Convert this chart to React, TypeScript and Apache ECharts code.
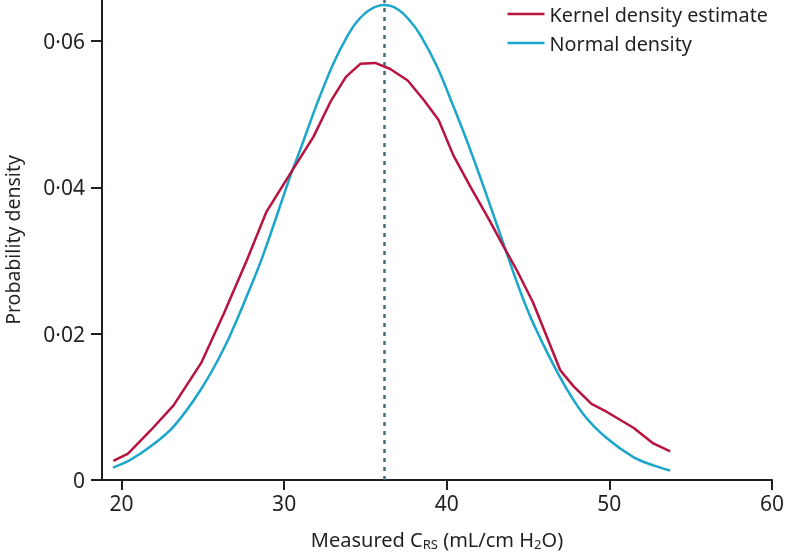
import React, { useEffect, useRef } from "react";
import * as echarts from "echarts";

// Kernel density estimate: x values (mL/cm H2O) and densities
const kernelX = [19.5, 20.4, 21.8, 23.2, 24.9, 26.3, 27.7, 28.9, 30.3, 31.8, 32.85, 33.8, 34.7, 35.6, 36.5, 37.6, 38.6, 39.5, 40.4, 41.45, 42.5, 43.5, 44.3, 45.3, 46.98, 47.8, 48.9, 49.85, 51.5, 52.7, 53.74];
const kernelY = [0.0026, 0.0036, 0.0068, 0.0102, 0.016, 0.0228, 0.03, 0.0366, 0.0416, 0.0469, 0.0517, 0.0551, 0.0569, 0.057, 0.0562, 0.0546, 0.0519, 0.0492, 0.0444, 0.0401, 0.036, 0.0319, 0.0287, 0.0243, 0.015, 0.0128, 0.0104, 0.0093, 0.0071, 0.005, 0.0039];

// Normal density: x values and densities
const normalX = [19.47, 20.5, 21.8, 23.2, 24.86, 26.3, 27.7, 28.75, 30.39, 31.0, 32.0, 33.0, 33.87, 34.5, 35.3, 36.16, 37.0, 37.76, 38.38, 39.4, 40.42, 41.45, 42.47, 43.5, 44.5, 45.34, 46.98, 48.4, 49.85, 51.5, 52.7, 53.74];
const normalY = [0.0017, 0.0027, 0.0046, 0.0073, 0.0123, 0.018, 0.0251, 0.031, 0.0416, 0.0452, 0.0513, 0.0568, 0.0606, 0.0627, 0.0643, 0.0649, 0.0643, 0.0627, 0.0608, 0.0565, 0.051, 0.0451, 0.0388, 0.0322, 0.0259, 0.0213, 0.014, 0.009, 0.0057, 0.0031, 0.002, 0.0013];

const meanValue = 36.16;
const xTicks = [20, 30, 40, 50, 60];
const yTicks = [0, 0.02, 0.04, 0.06];
const seriesNames = ["Kernel density estimate", "Normal density"];

const FONT = "Noto Sans";
const TEXT = "#231f20";
const RED = "#b8123e";
const BLUE = "#1ba6cb";

export default function App() {
  const ref = useRef<HTMLDivElement>(null);
  useEffect(() => {
    if (!ref.current) return;
    const chart = echarts.init(ref.current, undefined, { renderer: "svg" });
    const axisLine = { show: true, lineStyle: { color: TEXT, width: 2 } };
    const legendColors = [RED, BLUE];
    const legendGraphics = seriesNames.map((n, i) => ({
      type: "group",
      left: 505,
      top: 4 + i * 29,
      children: [
        { type: "line", shape: { x1: 0, y1: 10, x2: 37, y2: 10 }, style: { stroke: legendColors[i], lineWidth: 2.5 } },
        {
          type: "text",
          x: 42,
          y: 10,
          style: { text: n, fontFamily: FONT, fontSize: 19.8, fill: TEXT, verticalAlign: "middle", align: "left" },
        },
      ],
    }));
    chart.setOption({
      animation: false,
      textStyle: { fontFamily: FONT, color: TEXT },
      grid: { left: 102, right: 13, top: 0, bottom: 78, outerBoundsMode: "none", containLabel: false },
      graphic: legendGraphics,
      xAxis: {
        type: "value",
        min: 18.8,
        max: 60,
        axisLine,
        splitLine: { show: false },
        axisTick: { show: true, length: 10, customValues: xTicks, lineStyle: { color: TEXT, width: 2 } },
        axisLabel: { customValues: xTicks, fontSize: 21, color: TEXT, fontFamily: FONT, margin: 12 },
        name: "Measured C{sub|RS} (mL/cm H{sub|2}O)",
        nameLocation: "middle",
        nameGap: 48,
        nameTextStyle: {
          fontFamily: FONT,
          fontSize: 20,
          color: TEXT,
          rich: {
            sub: { fontSize: 13, fontFamily: FONT, color: TEXT, padding: [9, 0, 0, 0] },
          },
        },
      },
      yAxis: {
        type: "value",
        min: 0,
        max: 0.0656,
        axisLine,
        splitLine: { show: false },
        axisTick: { show: true, length: 11, customValues: yTicks, lineStyle: { color: TEXT, width: 2 } },
        axisLabel: {
          customValues: yTicks,
          fontSize: 21,
          color: TEXT,
          fontFamily: FONT,
          margin: 17,
          formatter: (v: number) => (v === 0 ? "0" : v.toFixed(2).replace(".", "·")),
        },
        name: "Probability density",
        nameLocation: "middle",
        nameGap: 80,
        nameTextStyle: { fontFamily: FONT, fontSize: 19.5, color: TEXT },
      },
      series: [
        {
          name: seriesNames[0],
          type: "line",
          symbol: "none",
          smooth: false,
          lineStyle: { color: RED, width: 2.5 },
          itemStyle: { color: RED },
          data: kernelX.map((x, i) => [x, kernelY[i]]),
          z: 3,
        },
        {
          name: seriesNames[1],
          type: "line",
          symbol: "none",
          smooth: 0.35,
          lineStyle: { color: BLUE, width: 2.5 },
          itemStyle: { color: BLUE },
          data: normalX.map((x, i) => [x, normalY[i]]),
          z: 2,
          markLine: {
            silent: true,
            symbol: "none",
            label: { show: false },
            lineStyle: { color: "#4a6b78", width: 2.5, type: [4, 5] },
            data: [{ xAxis: meanValue }],
          },
        },
      ],
    });
    return () => chart.dispose();
  }, []);
  return <div ref={ref} style={{ position: "fixed", left: 0, top: 0, width: 785, height: 558 }} />;
}
